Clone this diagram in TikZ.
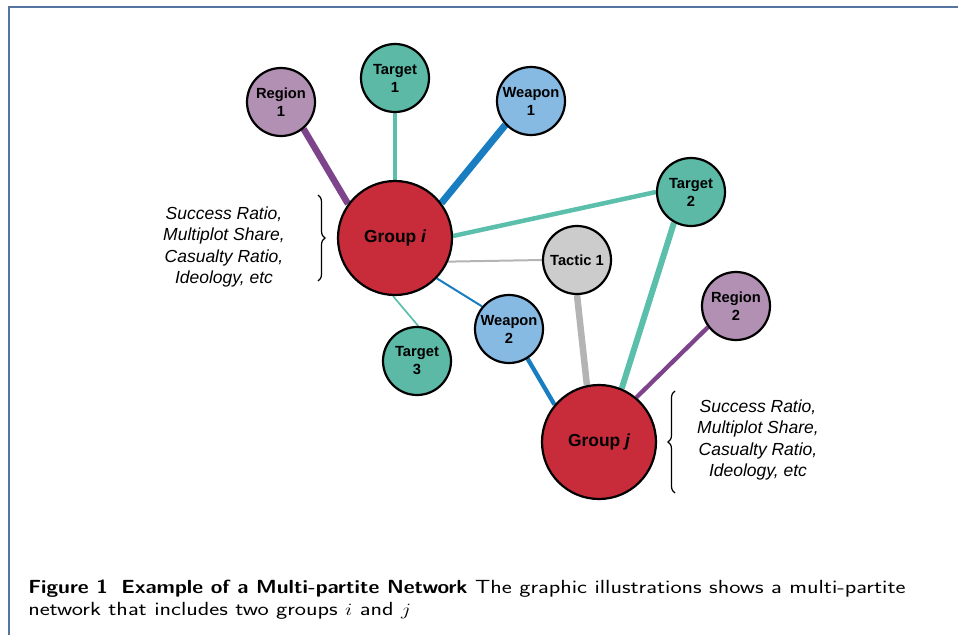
\documentclass[tikz,border=0pt]{standalone}
\usepackage{fontspec}
\newfontfamily\arialfont{Liberation Sans}
\usetikzlibrary{backgrounds,decorations.pathreplacing}
\definecolor{regionfill}{HTML}{B290B3}
\definecolor{regionedge}{HTML}{7D438B}
\definecolor{targetfill}{HTML}{5BB9A6}
\definecolor{targetedge}{HTML}{5CBFAC}
\definecolor{weaponfill}{HTML}{86BAE3}
\definecolor{weaponedge}{HTML}{197EC1}
\definecolor{tacticfill}{HTML}{CCCCCC}
\definecolor{tacticedge}{HTML}{B4B4B4}
\definecolor{groupred}{HTML}{C82B39}
\definecolor{framecol}{HTML}{5574A0}

\begin{document}
\begin{tikzpicture}[x=1pt,y=-1pt,
    vertex/.style={circle,draw=black,line width=2.2pt,minimum size=68pt,inner sep=0pt,align=center,
      font=\arialfont\bfseries\fontsize{14.7}{18}\selectfont},
    region/.style={vertex,fill=regionfill},
    target/.style={vertex,fill=targetfill},
    weapon/.style={vertex,fill=weaponfill},
    tactic/.style={vertex,fill=tacticfill},
    group/.style={vertex,minimum size=114pt,fill=groupred,
      font=\arialfont\bfseries\fontsize{17.4}{20}\selectfont},
    attr/.style={align=center,font=\arialfont\itshape\fontsize{17.5}{21.3}\selectfont},
    caption/.style={anchor=base west,inner sep=0pt,xscale=1.253,transform shape,
      font=\sffamily\fontsize{19}{22}\selectfont},
    bracket/.style={decorate,decoration={brace,amplitude=7pt},line width=1.2pt}]
    \useasboundingbox (0,0) rectangle (958,635);

    % Draw the frame
    \draw[framecol,line width=1.2pt] (9,635) -- (9,7) -- (958,7);

    % Draw the groups
    \node[group] (gi) at (395,238) {Group {\itshape i}};
    \node[group] (gj) at (599,442) {Group {\itshape j}};

    % Draw the attribute nodes
    \node[region] (r1) at (281,102) {Region\\1};
    \node[target] (t1) at (395,78) {Target\\1};
    \node[weapon] (w1) at (531,101) {Weapon\\1};
    \node[target] (t2) at (691,192) {Target\\2};
    \node[tactic] (tac) at (577,260) {Tactic 1};
    \node[region] (r2) at (736,306) {Region\\2};
    \node[weapon] (w2) at (509,329) {Weapon\\2};
    \node[target] (t3) at (417,361) {Target\\3};

    % Draw the edges behind the nodes
    \begin{scope}[on background layer]
    \draw[regionedge,line width=6.5pt] (r1.-50) -- (gi.144);
    \draw[targetedge,line width=3.5pt] (t1) -- (gi);
    \draw[weaponedge,line width=7pt] (w1.223) -- (gi.37);
    \draw[targetedge,line width=4.5pt] (gi.2) -- (t2.180);
    \draw[tacticedge,line width=2pt] (gi.-24) -- (tac.180);
    \draw[weaponedge,line width=2pt] (gi.-44) -- (w2.140);
    \draw[targetedge,line width=1.7pt] (gi.-92) -- (t3.88);
    \draw[weaponedge,line width=4.3pt] (w2.-58) -- (gj.140);
    \draw[tacticedge,line width=6.5pt] (tac.-90) -- (gj.102);
    \draw[targetedge,line width=6pt] (t2.241) -- (gj.67);
    \draw[regionedge,line width=4.3pt] (r2.217) -- (gj.50);
    \end{scope}

    % Draw the group attributes with braces
    \node[attr] (ai) at (224,247) {Success Ratio,\\Multiplot Share,\\Casualty Ratio,\\Ideology, etc};
    \draw[bracket] (318,195) -- (318,281);
    \node[attr] (aj) at (758,440) {Success Ratio,\\Multiplot Share,\\Casualty Ratio,\\Ideology, etc};
    \draw[bracket] (675,493) -- (675,391);

    % Draw the caption
    \node[caption] (cap1) at (28,593) {\scalebox{0.888}[1]{\textbf{Figure 1\hspace{12pt}Example of a Multi-partite Network}} The graphic illustrations shows a multi-partite};
    \node[caption] (cap2) at (28,615) {network that includes two groups $i$ and $j$};
\end{tikzpicture}
\end{document}
